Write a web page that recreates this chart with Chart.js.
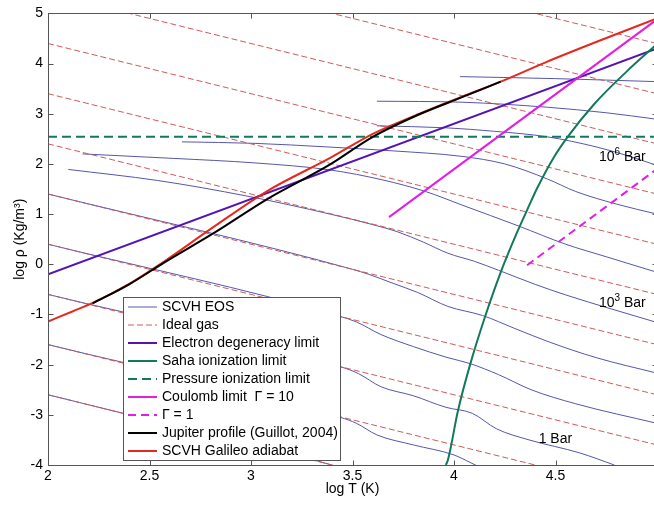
<!DOCTYPE html>
<html>
<head>
<meta charset="utf-8">
<script src="https://cdn.jsdelivr.net/npm/chart.js@4.4.1/dist/chart.umd.min.js"></script>
<style>
html, body { margin: 0; padding: 0; background: #fff; overflow: hidden; }
canvas { display: block; }
</style>
</head>
<body>
<canvas id="eosChart" width="660" height="506"></canvas>
<script>
// SCVH isobars (log T, log rho)
var scvh_001bar = [[2, -2.6], [3.0, -3.6], [3.38, -3.98], [3.42, -4.04]];
var scvh_01bar = [[2, -1.6], [3.44, -3.05], [3.52, -3.17], [3.62, -3.40], [3.8, -3.6], [4.0, -3.8], [4.08, -3.95], [4.13, -4.05]];
var scvh_1bar = [[2, -0.6], [3.44, -2.04], [3.53, -2.18], [3.64, -2.44], [3.8, -2.62], [3.96, -2.85], [4.09, -2.97], [4.21, -3.28], [4.37, -3.50], [4.62, -3.76], [4.79, -4.0]];
var scvh_10bar = [[2, 0.4], [3.44, -1.04], [3.52, -1.15], [3.64, -1.40], [3.8, -1.64], [3.96, -1.85], [4.08, -1.98], [4.22, -2.2], [4.38, -2.5], [4.6, -2.78], [5, -3.17]];
var scvh_100bar = [[2, 1.4], [3.5, -0.1], [3.58, -0.2], [3.7, -0.38], [3.82, -0.56], [3.97, -0.84], [4.14, -1.02], [4.30, -1.28], [4.47, -1.55], [4.7, -1.86], [5, -2.17]];
var scvh_1e3bar = [[2.10, 1.89], [2.54, 1.67], [2.98, 1.36], [3.39, 1.0], [3.6, 0.79], [3.72, 0.65], [3.85, 0.44], [3.97, 0.22], [4.1, 0.06], [4.22, -0.12], [4.4, -0.4], [4.55, -0.61], [5, -1.16]];
var scvh_1e4bar = [[2.17, 2.20], [2.62, 2.11], [3.02, 2.02], [3.39, 1.88], [3.65, 1.68], [3.86, 1.45], [4.04, 1.18], [4.32, 0.76], [4.55, 0.40], [4.75, 0.15], [5, -0.16]];
var scvh_1e5bar = [[2.66, 2.44], [3.02, 2.41], [3.37, 2.34], [3.7, 2.26], [4.04, 2.15], [4.25, 2.0], [4.46, 1.70], [4.6, 1.45], [4.8, 1.2], [5, 1.0]];
var scvh_1e6bar = [[3.62, 2.76], [3.96, 2.72], [4.2, 2.65], [4.46, 2.54], [4.70, 2.34], [4.85, 2.17], [5, 1.97]];
var scvh_1e7bar = [[3.62, 3.25], [4.04, 3.23], [4.46, 3.13], [4.75, 3.02], [5, 2.89]];
var scvh_1e8bar = [[4.03, 3.74], [4.5, 3.70], [5, 3.64]];

// ideal gas isobars: end points at log T = 2 and log T = 5
var idealGas = [
    [[2, -2.6], [5, -5.6]], [[2, -1.6], [5, -4.6]], [[2, -0.6], [5, -3.6]],
    [[2, 0.4], [5, -2.6]], [[2, 1.4], [5, -1.6]], [[2, 2.4], [5, -0.6]],
    [[2, 3.4], [5, 0.4]], [[2, 4.4], [5, 1.4]], [[2, 5.4], [5, 2.4]],
    [[2, 6.4], [5, 3.4]], [[2, 7.4], [5, 4.4]]
];

var degeneracy = [[2, -0.2], [5, 4.3]];
var saha = [[3.96, -4.0], [3.97, -3.9], [4.02, -2.91], [4.08, -1.99], [4.15, -1.08], [4.23, -0.16], [4.31, 0.63], [4.36, 1.08], [4.41, 1.52], [4.49, 2.12], [4.56, 2.54], [4.69, 3.19], [4.85, 3.84], [5.0, 4.39]];
var pressureIon = [[2, 2.54], [5, 2.54]];
var coulomb10 = [[3.68, 0.94], [5, 4.88]];
var coulomb1 = [[4.36, -0.02], [5, 1.9]];
var jupiter = [[2.22, -0.78], [2.40, -0.40], [2.57, 0.03], [2.82, 0.63], [3.08, 1.30], [3.39, 1.99], [3.60, 2.54], [3.83, 2.99], [4.04, 3.33], [4.23, 3.64]];
var galileo = [[2, -1.14], [2.12, -0.94], [2.22, -0.77], [2.40, -0.39], [2.57, 0.05], [2.80, 0.70], [3.08, 1.46], [3.39, 2.12], [3.60, 2.60], [3.83, 3.0], [4.04, 3.34], [4.23, 3.64], [4.46, 4.04], [4.70, 4.43], [5.0, 4.90]];

var legendLabels = ['SCVH EOS', 'Ideal gas', 'Electron degeneracy limit', 'Saha ionization limit',
    'Pressure ionization limit', 'Coulomb limit  \u0393 = 10', '\u0393 = 1',
    'Jupiter profile (Guillot, 2004)', 'SCVH Galileo adiabat'];
var isobarLabels = [
    { base: '10', sup: '6', rest: ' Bar', x: 4.714, y: 2.14 },
    { base: '10', sup: '3', rest: ' Bar', x: 4.714, y: -0.77 },
    { base: '1', sup: '', rest: ' Bar', x: 4.417, y: -3.48 }
];

var FONT = "'Liberation Sans', Arial, sans-serif";

// one style per legend entry
var styles = [
    { color: '#5656aa', width: 1, dash: [] },
    { color: '#cc5c5c', width: 1, dash: [6, 3] },
    { color: '#5214b4', width: 2, dash: [] },
    { color: '#12795a', width: 2, dash: [] },
    { color: '#12795a', width: 2, dash: [9, 5] },
    { color: '#e21ee2', width: 2, dash: [] },
    { color: '#e21ee2', width: 2, dash: [8, 5] },
    { color: '#000000', width: 2, dash: [] },
    { color: '#e42a1e', width: 2, dash: [] }
];

var datasets = [];
function addLine(data, group, order, smooth) {
    var s = styles[group];
    datasets.push({
        label: legendLabels[group],
        data: data,
        borderColor: s.color,
        borderWidth: s.width,
        borderDash: s.dash,
        pointRadius: 0,
        fill: false,
        order: order,
        cubicInterpolationMode: smooth ? 'monotone' : 'default',
        tension: 0
    });
}

[scvh_001bar, scvh_01bar, scvh_1bar, scvh_10bar, scvh_100bar, scvh_1e3bar,
 scvh_1e4bar, scvh_1e5bar, scvh_1e6bar, scvh_1e7bar, scvh_1e8bar].forEach(function(d) { addLine(d, 0, 20, true); });
idealGas.forEach(function(d) { addLine(d, 1, 19, false); });
addLine(degeneracy, 2, 10, false);
addLine(saha, 3, 9, true);
addLine(pressureIon, 4, 8, false);
addLine(coulomb10, 5, 7, false);
addLine(coulomb1, 6, 6, false);
addLine(galileo, 8, 5, true);
addLine(jupiter, 7, 4, true);

var frame = {
    id: 'frame',
    afterDraw: function(chart) {
        var ctx = chart.ctx, a = chart.chartArea;
        var sx = chart.scales.x, sy = chart.scales.y;
        ctx.save();
        ctx.strokeStyle = '#555';
        ctx.lineWidth = 1;
        ctx.setLineDash([]);
        var L = Math.round(a.left) + 0.5, R = Math.round(a.right) + 0.5;
        var T = Math.round(a.top) + 0.5, B = Math.round(a.bottom) + 0.5;
        ctx.strokeRect(L, T, R - L, B - T);
        ctx.beginPath();
        sx.ticks.forEach(function(t) {
            var p = Math.round(sx.getPixelForValue(t.value)) + 0.5;
            ctx.moveTo(p, B); ctx.lineTo(p, B - 5);
            ctx.moveTo(p, T); ctx.lineTo(p, T + 5);
        });
        sy.ticks.forEach(function(t) {
            var p = Math.round(sy.getPixelForValue(t.value)) + 0.5;
            ctx.moveTo(L, p); ctx.lineTo(L + 5, p);
            ctx.moveTo(R, p); ctx.lineTo(R - 5, p);
        });
        ctx.stroke();

        // isobar labels
        ctx.fillStyle = '#000';
        ctx.textBaseline = 'middle';
        ctx.textAlign = 'left';
        isobarLabels.forEach(function(lb) {
            var x = sx.getPixelForValue(lb.x), y = sy.getPixelForValue(lb.y);
            ctx.font = '14px ' + FONT;
            ctx.fillText(lb.base, x, y);
            x += ctx.measureText(lb.base).width;
            if (lb.sup) {
                ctx.font = '10px ' + FONT;
                ctx.fillText(lb.sup, x, y - 5);
                x += ctx.measureText(lb.sup).width;
            }
            ctx.font = '14px ' + FONT;
            ctx.fillText(lb.rest, x, y);
        });

        // legend box
        var bx = 123.5, by = 297.5, bw = 217, bh = 163;
        ctx.fillStyle = '#fff';
        ctx.fillRect(bx, by, bw, bh);
        ctx.strokeStyle = '#555';
        ctx.strokeRect(bx, by, bw, bh);
        ctx.font = '14px ' + FONT;
        legendLabels.forEach(function(txt, i) {
            var y = 307 + i * 18;
            var s = styles[i];
            ctx.beginPath();
            ctx.strokeStyle = s.color;
            ctx.lineWidth = s.width;
            ctx.setLineDash(s.dash);
            ctx.moveTo(128, y);
            ctx.lineTo(157, y);
            ctx.stroke();
            ctx.setLineDash([]);
            ctx.fillStyle = '#000';
            ctx.fillText(txt, 162, y);
        });
        ctx.restore();
    }
};

var tickFont = { family: FONT, size: 14 };

var eosChart = new Chart(document.getElementById('eosChart'), {
    type: 'line',
    data: { datasets: datasets },
    options: {
        responsive: false,
        animation: false,
        layout: { padding: { top: 8, right: 3, left: 0, bottom: 0 } },
        plugins: { legend: { display: false }, tooltip: { enabled: false } },
        scales: {
            x: {
                type: 'linear',
                min: 2,
                max: 5,
                grid: { display: false, drawTicks: false },
                border: { display: false },
                ticks: {
                    stepSize: 0.5,
                    autoSkip: false,
                    maxRotation: 0,
                    padding: 3,
                    color: '#000',
                    font: tickFont,
                    callback: function(v) { return v === 5 ? '' : v; }
                },
                title: { display: true, text: 'log T (K)', color: '#000', font: tickFont, padding: { top: 0, bottom: 8 } },
                afterFit: function(s) { s.height = 41; }
            },
            y: {
                type: 'linear',
                min: -4,
                max: 5,
                grid: { display: false, drawTicks: false },
                border: { display: false },
                ticks: { stepSize: 1, autoSkip: false, padding: 5, color: '#000', font: tickFont },
                title: { display: true, text: 'log \u03c1 (Kg/m\u00b3)', color: '#000', font: tickFont, padding: { top: 12, bottom: 0 } },
                afterFit: function(s) { s.width = 48; }
            }
        }
    },
    plugins: [frame]
});
</script>
</body>
</html>
